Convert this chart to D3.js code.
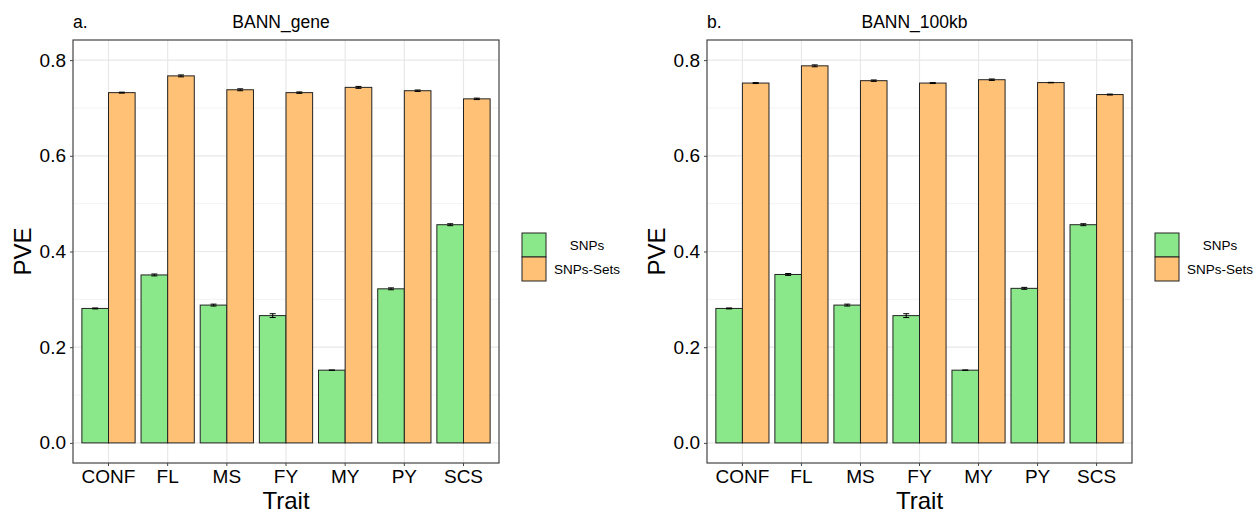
<!DOCTYPE html>
<html lang="en">
<head>
<meta charset="UTF-8">
<title>BANN PVE</title>
<script src="https://cdn.jsdelivr.net/npm/d3@7"></script>
<style>
  body { margin: 0; background: #fff; }
  text { font-family: "Liberation Sans", Arial, sans-serif; fill: #000; }
</style>
</head>
<body>
<svg id="chart" width="1254" height="515"></svg>
<script>
// data
const traits = ["CONF", "FL", "MS", "FY", "MY", "PY", "SCS"]
const groups = ["SNPs", "SNPs-Sets"]
const geneSnps = [0.281, 0.351, 0.288, 0.266, 0.152, 0.322, 0.456]
const geneSets = [0.732, 0.767, 0.738, 0.732, 0.743, 0.736, 0.719]
const geneSnpsSe = [0.001, 0.002, 0.002, 0.004, 0.0003, 0.002, 0.002]
const geneSetsSe = [0.001, 0.002, 0.002, 0.0015, 0.002, 0.0015, 0.0015]
const kbSnps = [0.281, 0.352, 0.288, 0.266, 0.152, 0.323, 0.456]
const kbSets = [0.752, 0.788, 0.757, 0.752, 0.759, 0.753, 0.728]
const kbSnpsSe = [0.001, 0.002, 0.002, 0.004, 0.0003, 0.002, 0.002]
const kbSetsSe = [0.001, 0.002, 0.0015, 0.001, 0.0015, 0.0005, 0.001]
const yTicks = [0, 0.2, 0.4, 0.6, 0.8]
const yMinor = [0.1, 0.3, 0.5, 0.7]

const colors = { "SNPs": "#8ae88a", "SNPs-Sets": "#ffc175" }

const panels = [
  { tag: "a.", title: "BANN_gene", left: 73, right: 499, snps: geneSnps, sets: geneSets, snpsSe: geneSnpsSe, setsSe: geneSetsSe },
  { tag: "b.", title: "BANN_100kb", left: 707, right: 1132, snps: kbSnps, sets: kbSets, snpsSe: kbSnpsSe, setsSe: kbSetsSe }
]

const panelTop = 40, panelBottom = 463
const svg = d3.select("#chart")

const y = d3.scaleLinear().domain([-0.042, 0.842]).range([panelBottom, panelTop])

panels.forEach(p => {
  const g = svg.append("g")
  const w = p.right - p.left

  // ggplot-style discrete axis: 0.6 padding at each end
  const x = d3.scaleLinear().domain([0.4, traits.length + 0.6]).range([p.left, p.right])
  const xc = (i) => x(i + 1)
  const barW = x(1.45) - x(1)

  // grid
  g.selectAll(".minor").data(yMinor).join("line")
    .attr("x1", p.left).attr("x2", p.right)
    .attr("y1", d => y(d)).attr("y2", d => y(d))
    .attr("stroke", "#f3f3f3").attr("stroke-width", 1)
  g.selectAll(".major").data(yTicks).join("line")
    .attr("x1", p.left).attr("x2", p.right)
    .attr("y1", d => y(d)).attr("y2", d => y(d))
    .attr("stroke", "#e8e8e8").attr("stroke-width", 1.2)
  g.selectAll(".vgrid").data(traits).join("line")
    .attr("x1", (d, i) => xc(i)).attr("x2", (d, i) => xc(i))
    .attr("y1", panelTop).attr("y2", panelBottom)
    .attr("stroke", "#e8e8e8").attr("stroke-width", 1.2)

  // bars
  const rows = []
  traits.forEach((t, i) => {
    rows.push({ i, group: "SNPs", v: p.snps[i], se: p.snpsSe[i], x0: xc(i) - barW })
    rows.push({ i, group: "SNPs-Sets", v: p.sets[i], se: p.setsSe[i], x0: xc(i) })
  })

  g.selectAll(".bar").data(rows).join("rect")
    .attr("x", d => d.x0)
    .attr("y", d => y(d.v))
    .attr("width", barW)
    .attr("height", d => y(0) - y(d.v))
    .attr("fill", d => colors[d.group])
    .attr("stroke", "#222")
    .attr("stroke-width", 1)

  // error bars
  const cap = 3
  const eb = g.selectAll(".err").data(rows).join("g")
    .attr("stroke", "#000").attr("stroke-width", 1)
  eb.append("line")
    .attr("x1", d => d.x0 + barW / 2).attr("x2", d => d.x0 + barW / 2)
    .attr("y1", d => y(d.v - d.se)).attr("y2", d => y(d.v + d.se))
  eb.append("line")
    .attr("x1", d => d.x0 + barW / 2 - cap).attr("x2", d => d.x0 + barW / 2 + cap)
    .attr("y1", d => y(d.v + d.se)).attr("y2", d => y(d.v + d.se))
  eb.append("line")
    .attr("x1", d => d.x0 + barW / 2 - cap).attr("x2", d => d.x0 + barW / 2 + cap)
    .attr("y1", d => y(d.v - d.se)).attr("y2", d => y(d.v - d.se))

  // panel border
  g.append("rect")
    .attr("x", p.left).attr("y", panelTop)
    .attr("width", w).attr("height", panelBottom - panelTop)
    .attr("fill", "none").attr("stroke", "#444").attr("stroke-width", 1.2)

  // axes
  const yAxis = d3.axisLeft(y).tickValues(yTicks).tickFormat(d3.format(".1f")).tickSize(3).tickPadding(4)
  const ya = g.append("g").attr("transform", `translate(${p.left},0)`).call(yAxis)
  ya.select(".domain").remove()
  ya.selectAll(".tick line").attr("stroke", "#444")
  ya.selectAll("text").style("font-size", "19px").attr("fill", "#111")

  const xb = d3.scaleBand().domain(traits).range([x(0.5), x(traits.length + 0.5)])
  const xAxis = d3.axisBottom(xb).tickSize(3).tickPadding(4)
  const xa = g.append("g").attr("transform", `translate(0,${panelBottom})`).call(xAxis)
  xa.select(".domain").remove()
  xa.selectAll(".tick line").attr("stroke", "#444")
  xa.selectAll("text").style("font-size", "19px").attr("fill", "#111")

  // titles
  g.append("text").attr("x", p.left).attr("y", 28)
    .style("font-size", "17.5px").text(p.tag)
  g.append("text").attr("x", p.left + w / 2 - 5).attr("y", 28)
    .attr("text-anchor", "middle").style("font-size", "17.5px").text(p.title)
  g.append("text").attr("x", p.left + w / 2).attr("y", 509)
    .attr("text-anchor", "middle").style("font-size", "24px").text("Trait")
  g.append("text")
    .attr("transform", `translate(${p.left - 42},${(panelTop + panelBottom) / 2}) rotate(-90)`)
    .attr("text-anchor", "middle").style("font-size", "24px").text("PVE")

  // legend
  const lx = p.right + 23, ly = 233, key = 24
  const leg = g.append("g")
  groups.forEach((grp, k) => {
    leg.append("rect")
      .attr("x", lx).attr("y", ly + k * key)
      .attr("width", key).attr("height", key)
      .attr("fill", colors[grp]).attr("stroke", "#222").attr("stroke-width", 1)
    leg.append("text")
      .attr("x", lx + key + 41).attr("y", ly + k * key + key / 2 + 5)
      .attr("text-anchor", "middle").style("font-size", "13.5px").text(grp)
  })
})
</script>
</body>
</html>
